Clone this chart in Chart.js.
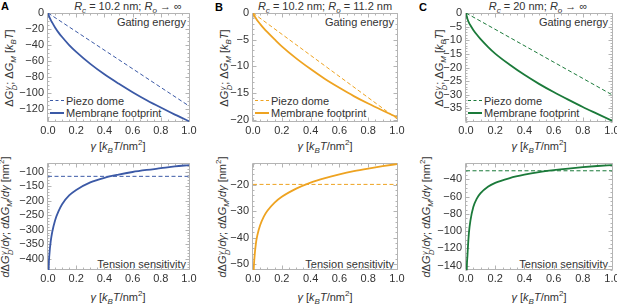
<!DOCTYPE html>
<html>
<head>
<meta charset="utf-8">
<title>Piezo dome vs membrane footprint</title>
<script src="https://cdn.jsdelivr.net/npm/chart.js"></script>
<style>
  html, body { margin: 0; padding: 0; background: #fff; overflow: hidden; }
  body { width: 617px; height: 305px; position: relative; font-family: "Liberation Sans", Arial, sans-serif; color: #333; font-size: 11px; }
  canvas { position: absolute; }
  .t { position: absolute; white-space: nowrap; line-height: 12px; font-size: 11px; }
  .c { transform: translate(-50%, -50%); }
  .r { transform: translate(-100%, -50%); }
  .l { transform: translate(0, -50%); }
  .v { transform: translate(-50%, -50%) rotate(-90deg); }
  .tag { position: absolute; font-weight: bold; font-size: 11px; color: #000; line-height: 11px; }
  sub, sup { font-size: 8px; line-height: 0; }
  .ss { display: inline-flex; flex-direction: column; font-size: 7.5px; line-height: 7px; vertical-align: 3px; font-style: italic; margin-left: 0.5px; }
  .sample { position: absolute; width: 14px; height: 0; }
</style>
</head>
<body>
  <div class="tag" style="left:1px;top:1px">A</div>
  <div class="tag" style="left:215px;top:2px">B</div>
  <div class="tag" style="left:419px;top:2px">C</div>

  <div class="t c" style="left:128px;top:5.5px"><i>R</i><sub><i>c</i></sub> = 10.2 nm; <i>R</i><sub><i>o</i></sub> → ∞</div>
  <div class="t c" style="left:325px;top:5.5px"><i>R</i><sub><i>c</i></sub> = 10.2 nm; <i>R</i><sub><i>o</i></sub> = 11.2 nm</div>
  <div class="t c" style="left:538px;top:5.5px"><i>R</i><sub><i>c</i></sub> = 20 nm; <i>R</i><sub><i>o</i></sub> → ∞</div>

  <div class="t r" style="left:186px;top:21.5px">Gating energy</div>
  <div class="t r" style="left:394px;top:21.5px">Gating energy</div>
  <div class="t r" style="left:608px;top:21.5px">Gating energy</div>
  <div class="t r" style="left:186px;top:263.5px">Tension sensitivity</div>
  <div class="t r" style="left:394px;top:263.5px">Tension sensitivity</div>
  <div class="t r" style="left:608px;top:263.5px">Tension sensitivity</div>

  <div class="sample" style="left:50px;top:100px;border-top:1px dashed #3b59a6"></div>
  <div class="sample" style="left:50px;top:112px;border-top:2px solid #3b59a6"></div>
  <div class="t l" style="left:66px;top:101px">Piezo dome</div>
  <div class="t l" style="left:66px;top:113px">Membrane footprint</div>
  <div class="sample" style="left:255px;top:100px;border-top:1px dashed #eea321"></div>
  <div class="sample" style="left:255px;top:112px;border-top:2px solid #eea321"></div>
  <div class="t l" style="left:271px;top:101px">Piezo dome</div>
  <div class="t l" style="left:271px;top:113px">Membrane footprint</div>
  <div class="sample" style="left:468px;top:100px;border-top:1px dashed #1b7a3a"></div>
  <div class="sample" style="left:468px;top:112px;border-top:2px solid #1b7a3a"></div>
  <div class="t l" style="left:484px;top:101px">Piezo dome</div>
  <div class="t l" style="left:484px;top:113px">Membrane footprint</div>

  <div class="t c" style="left:118px;top:146px"><i>γ</i> [<i>k</i><sub><i>B</i></sub><i>T</i>/nm<sup>2</sup>]</div>
  <div class="t c" style="left:325px;top:146px"><i>γ</i> [<i>k</i><sub><i>B</i></sub><i>T</i>/nm<sup>2</sup>]</div>
  <div class="t c" style="left:539px;top:146px"><i>γ</i> [<i>k</i><sub><i>B</i></sub><i>T</i>/nm<sup>2</sup>]</div>
  <div class="t c" style="left:118px;top:296.5px"><i>γ</i> [<i>k</i><sub><i>B</i></sub><i>T</i>/nm<sup>2</sup>]</div>
  <div class="t c" style="left:325px;top:296.5px"><i>γ</i> [<i>k</i><sub><i>B</i></sub><i>T</i>/nm<sup>2</sup>]</div>
  <div class="t c" style="left:539px;top:296.5px"><i>γ</i> [<i>k</i><sub><i>B</i></sub><i>T</i>/nm<sup>2</sup>]</div>

  <div class="t v" style="left:10px;top:67.5px">Δ<i>G</i><span class="ss"><span>γ</span><span>D</span></span>; Δ<i>G</i><sub><i>M</i></sub> [<i>k</i><sub><i>B</i></sub><i>T</i>]</div>
  <div class="t v" style="left:225px;top:67.5px">Δ<i>G</i><span class="ss"><span>γ</span><span>D</span></span>; Δ<i>G</i><sub><i>M</i></sub> [<i>k</i><sub><i>B</i></sub><i>T</i>]</div>
  <div class="t v" style="left:440px;top:67.5px">Δ<i>G</i><span class="ss"><span>γ</span><span>D</span></span>; Δ<i>G</i><sub><i>M</i></sub> [<i>k</i><sub><i>B</i></sub><i>T</i>]</div>
  <div class="t v" style="left:6px;top:217px"><i>d</i>Δ<i>G</i><span class="ss"><span>γ</span><span>D</span></span>/<i>dγ</i>; <i>d</i>Δ<i>G</i><sub><i>M</i></sub>/<i>dγ</i> [nm<sup>2</sup>]</div>
  <div class="t v" style="left:223px;top:217px"><i>d</i>Δ<i>G</i><span class="ss"><span>γ</span><span>D</span></span>/<i>dγ</i>; <i>d</i>Δ<i>G</i><sub><i>M</i></sub>/<i>dγ</i> [nm<sup>2</sup>]</div>
  <div class="t v" style="left:427px;top:217px"><i>d</i>Δ<i>G</i><span class="ss"><span>γ</span><span>D</span></span>/<i>dγ</i>; <i>d</i>Δ<i>G</i><sub><i>M</i></sub>/<i>dγ</i> [nm<sup>2</sup>]</div>

<script>
// tension values (kBT/nm^2)
const gamma     = [0, 0.005, 0.01, 0.02, 0.03, 0.05, 0.075, 0.1, 0.15, 0.2, 0.3, 0.4, 0.5, 0.6, 0.7, 0.8, 0.9, 1.0];
const gammaSens = [0.002, 0.005, 0.01, 0.02, 0.03, 0.05, 0.075, 0.1, 0.15, 0.2, 0.3, 0.4, 0.5, 0.6, 0.7, 0.8, 0.9, 1.0];
const gammaEnds = [0, 1];

// A: Rc = 10.2 nm, Ro -> inf
const energyA = [0, -3, -5, -8.8, -12, -18, -24.5, -30, -40, -48.5, -63.5, -76.5, -88, -98.8, -108.8, -118, -126.8, -135];
const sensA   = [-520, -430, -385, -338, -308, -268, -236, -212, -182, -163, -137, -121, -110, -101, -94, -88, -82, -77];
const domeA   = -116;

// B: Rc = 10.2 nm, Ro = 11.2 nm
const energyB = [0, -0.3, -0.56, -1.0, -1.4, -2.08, -2.88, -3.6, -4.95, -6.25, -8.5, -10.5, -12.35, -14.0, -15.55, -16.95, -18.25, -19.5];
const sensB   = [-58, -52, -47.6, -42.2, -39.1, -35.2, -32.0, -29.8, -26.7, -24.5, -21.4, -19.1, -17.4, -16.0, -14.8, -13.8, -12.9, -12.1];
const domeB   = -19.8;

// C: Rc = 20 nm, Ro -> inf
const energyC = [0, -1.2, -2.2, -3.5, -4.5, -6.2, -8.0, -9.6, -12.4, -14.9, -19.0, -22.7, -26.0, -29.0, -31.8, -34.5, -37.0, -39.5];
const sensC   = [-190, -147, -128, -102, -88, -72, -62, -56, -48.5, -44, -38.5, -34.6, -31.6, -29.3, -27.4, -25.8, -24.5, -23.5];
const domeC   = -30;

const xTicks   = [0, 0.2, 0.4, 0.6, 0.8, 1.0];
const yTicksA1 = [0, -20, -40, -60, -80, -100, -120];
const yTicksA2 = [-100, -150, -200, -250, -300, -350, -400];
const yTicksB1 = [0, -5, -10, -15, -20];
const yTicksB2 = [-20, -30, -40, -50];
const yTicksC1 = [0, -5, -10, -15, -20, -25, -30, -35];
const yTicksC2 = [-40, -60, -80, -100, -120, -140];

Chart.defaults.font.family = '"Liberation Sans", Arial, sans-serif';
Chart.defaults.font.size = 11;
Chart.defaults.color = '#333';

const PAD = {l: 34, t: 8, r: 12, b: 22};
const FRAME = '#b4b4b4';

function pts(xs, ys) {
  return xs.map((x, i) => ({x: x, y: ys[i]}));
}

function steps(lo, hi, st) {
  const out = [];
  for (let v = Math.ceil(lo / st) * st; v <= hi + 1e-9; v += st) out.push(+v.toFixed(4));
  return out;
}

// frame with inward ticks on all four sides, like the original plots
const framePlugin = {
  id: 'frame',
  beforeDatasetsDraw(chart, args, o) {
    const {ctx, chartArea: a, scales} = chart;
    const L = a.left - 0.5, R = a.right + 0.5, T = a.top + 0.5, B = a.bottom - 0.5;
    ctx.save();
    ctx.strokeStyle = FRAME;
    ctx.lineWidth = 1;
    ctx.beginPath();
    const xt = (v, len) => {
      const px = Math.round(scales.x.getPixelForValue(v)) + 0.5;
      ctx.moveTo(px, B); ctx.lineTo(px, B - len);
      ctx.moveTo(px, T); ctx.lineTo(px, T + len);
    };
    const yt = (v, len) => {
      const py = Math.round(scales.y.getPixelForValue(v)) + 0.5;
      ctx.moveTo(L, py); ctx.lineTo(L + len, py);
      ctx.moveTo(R, py); ctx.lineTo(R - len, py);
    };
    steps(0, 1, 0.05).forEach(v => xt(v, 2));
    xTicks.forEach(v => xt(v, 4));
    steps(o.yMin, o.yMax, o.minor).forEach(v => yt(v, 2));
    o.major.forEach(v => yt(v, 4));
    ctx.rect(L, T, R - L, B - T);
    ctx.stroke();
    ctx.restore();
  }
};

const minus = v => (v < 0 ? '\u2212' + Math.abs(v) : String(v));

function makePanel(p) {
  const [x0, y0, x1, y1] = p.box;
  const cv = document.createElement('canvas');
  cv.width = (x1 - x0) + PAD.l + PAD.r;
  cv.height = (y1 - y0) + PAD.t + PAD.b;
  cv.style.left = (x0 - PAD.l) + 'px';
  cv.style.top = (y0 - PAD.t) + 'px';
  document.body.appendChild(cv);

  new Chart(cv, {
    type: 'line',
    data: {datasets: p.sets},
    options: {
      responsive: false,
      animation: false,
      events: [],
      layout: {padding: {left: 0, top: PAD.t, right: PAD.r, bottom: 0}},
      elements: {point: {radius: 0}, line: {cubicInterpolationMode: 'monotone'}},
      plugins: {
        legend: {display: false},
        tooltip: {enabled: false},
        frame: {yMin: p.yMin, yMax: p.yMax, major: p.major, minor: p.minor}
      },
      scales: {
        x: {
          type: 'linear', min: 0, max: 1,
          grid: {display: false, drawTicks: false},
          border: {display: false},
          afterBuildTicks: s => { s.ticks = xTicks.map(v => ({value: v})); },
          afterFit: s => { s.height = PAD.b; s.paddingLeft = 0; s.paddingRight = 0; },
          ticks: {padding: 2, maxRotation: 0, autoSkip: false, callback: v => v.toFixed(1)}
        },
        y: {
          min: p.yMin, max: p.yMax,
          grid: {display: false, drawTicks: false},
          border: {display: false},
          afterBuildTicks: s => { s.ticks = p.major.map(v => ({value: v})); },
          afterFit: s => { s.width = PAD.l; s.paddingTop = 0; s.paddingBottom = 0; },
          ticks: {padding: 4, autoSkip: false, callback: minus}
        }
      }
    },
    plugins: [framePlugin]
  });
}

function dashed(color, ys) {
  return {data: pts(gammaEnds, ys), borderColor: color, borderWidth: 1, borderDash: [4, 2.5], fill: false};
}
function solid(color, xs, ys) {
  return {data: pts(xs, ys), borderColor: color, borderWidth: 1.8, fill: false};
}

const blue = '#3b59a6', orange = '#eea321', green = '#1b7a3a';

const panels = [
  {box: [48, 13, 189, 122], yMin: -136, yMax: 0, major: yTicksA1, minor: 5,
   sets: [dashed(blue, [0, domeA]), solid(blue, gamma, energyA)]},
  {box: [48, 163, 189, 270], yMin: -439, yMax: -70, major: yTicksA2, minor: 10,
   sets: [dashed(blue, [domeA, domeA]), solid(blue, gammaSens, sensA)]},
  {box: [253, 13, 397, 122], yMin: -20.4, yMax: 0, major: yTicksB1, minor: 1,
   sets: [dashed(orange, [0, domeB]), solid(orange, gamma, energyB)]},
  {box: [253, 163, 397, 270], yMin: -52.2, yMax: -11.7, major: yTicksB2, minor: 2,
   sets: [dashed(orange, [domeB, domeB]), solid(orange, gammaSens, sensB)]},
  {box: [466, 13, 612, 122], yMin: -40, yMax: 0, major: yTicksC1, minor: 1,
   sets: [dashed(green, [0, domeC]), solid(green, gamma, energyC)]},
  {box: [466, 163, 612, 270], yMin: -145, yMax: -21, major: yTicksC2, minor: 5,
   sets: [dashed(green, [domeC, domeC]), solid(green, gammaSens, sensC)]}
];

panels.forEach(makePanel);
</script>
</body>
</html>
